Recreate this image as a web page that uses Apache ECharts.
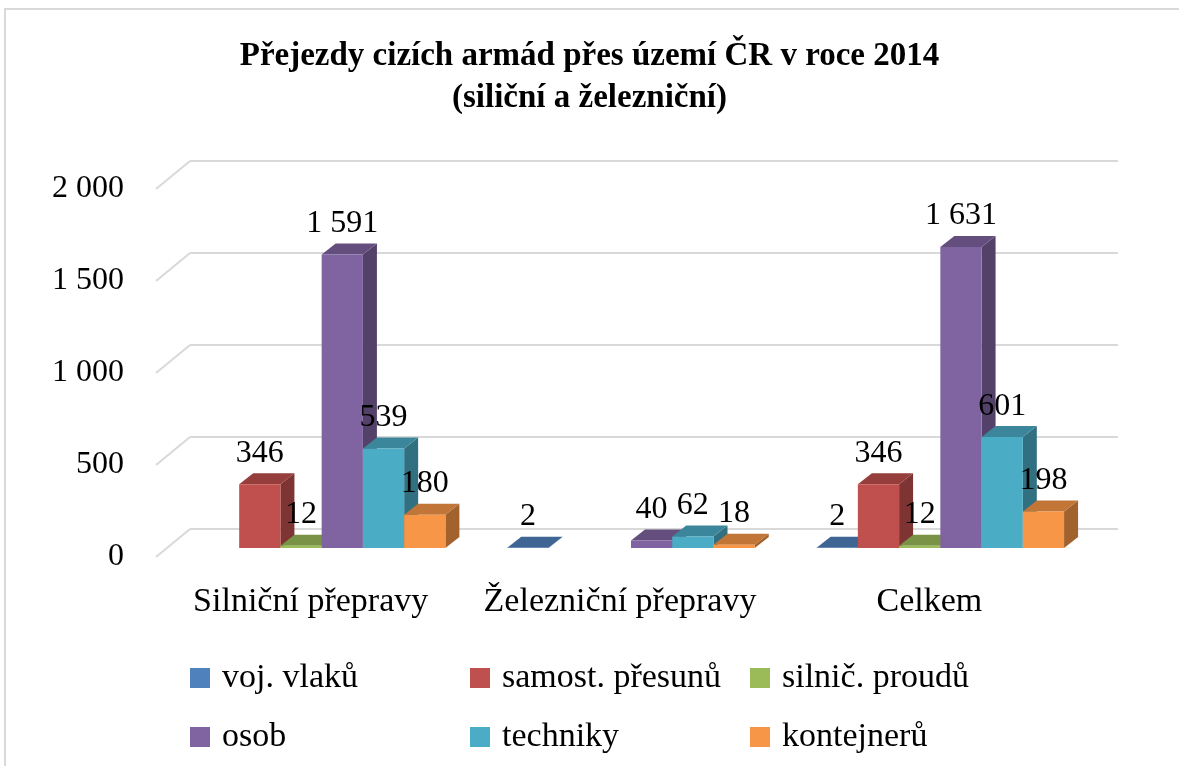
<!DOCTYPE html>
<html>
<head>
<meta charset="utf-8">
<script src="https://cdn.jsdelivr.net/npm/echarts@6/dist/echarts.min.js"></script>
<style>
  html, body { margin: 0; padding: 0; background: #fff; }
  #chart { width: 1179px; height: 766px; }
</style>
</head>
<body>
<div id="chart"></div>
<script>
// kategorie a hodnoty
const categories = ['Silniční přepravy', 'Železniční přepravy', 'Celkem'];
const seriesNames = ['voj. vlaků', 'samost. přesunů', 'silnič. proudů', 'osob', 'techniky', 'kontejnerů'];
const vojVlaku = [null, 2, 2];
const samostPresunu = [346, null, 346];
const silnicProudu = [12, null, 12];
const osob = [1591, 40, 1631];
const techniky = [539, 62, 601];
const kontejneru = [180, 18, 198];
const yTicks = [0, 500, 1000, 1500, 2000];

const seriesValues = [vojVlaku, samostPresunu, silnicProudu, osob, techniky, kontejneru];
const colors = ['#4F81BD', '#C0504D', '#9BBB59', '#8064A2', '#4BACC6', '#F79646'];

const FONT = '"Liberation Serif", "DejaVu Serif", serif';
const DEPTH_X = 14, DEPTH_Y = -11;   // hloubka sloupců
const WALL_X = -34, WALL_Y = 28;     // šikmé čáry podlahy

function shade(hex, f) {
  const n = parseInt(hex.slice(1), 16);
  const r = Math.round(((n >> 16) & 255) * f);
  const g = Math.round(((n >> 8) & 255) * f);
  const b = Math.round((n & 255) * f);
  return 'rgb(' + r + ',' + g + ',' + b + ')';
}

function fmt(v) {
  return String(v).replace(/\B(?=(\d{3})+(?!\d))/g, ' ');
}

const chart = echarts.init(document.getElementById('chart'));

function barRenderer(idx) {
  return function (params, api) {
    const cat = api.value(0);
    const val = api.value(1);
    const base = api.coord([cat, 0]);
    const top = api.coord([cat, val]);
    const band = api.size([1, 0])[0];
    const w = band * 0.8 / 6;
    const x = base[0] + (idx - 3) * w;
    const yt = top[1], yb = base[1];
    const c = colors[idx];
    return {
      type: 'group',
      children: [
        {
          type: 'polygon',
          shape: { points: [[x + w, yt], [x + w + DEPTH_X, yt + DEPTH_Y], [x + w + DEPTH_X, yb + DEPTH_Y], [x + w, yb]] },
          style: { fill: shade(c, 0.65) }
        },
        {
          type: 'polygon',
          shape: { points: [[x, yt], [x + w, yt], [x + w + DEPTH_X, yt + DEPTH_Y], [x + DEPTH_X, yt + DEPTH_Y]] },
          style: { fill: shade(c, 0.78) }
        },
        {
          type: 'rect',
          shape: { x: x, y: yt, width: w, height: Math.max(yb - yt, 0) },
          style: { fill: c }
        },
        {
          type: 'text',
          z2: 100,
          style: {
            text: fmt(val), x: x + w / 2, y: yt - 31,
            align: 'center', verticalAlign: 'middle',
            fontSize: 32, fontFamily: FONT, fill: '#000'
          }
        }
      ]
    };
  };
}

const barSeries = seriesNames.map((name, i) => ({
  name: name,
  type: 'custom',
  xAxisIndex: 0,
  yAxisIndex: 0,
  itemStyle: { color: colors[i] },
  renderItem: barRenderer(i),
  data: seriesValues[i]
    .map((v, k) => (v === null ? null : [k, v]))
    .filter(d => d !== null)
}));

// šikmé čáry mezi přední rovinou a zadní stěnou
const diagSeries = {
  type: 'custom',
  xAxisIndex: 1,
  yAxisIndex: 1,
  silent: true,
  renderItem: function (params, api) {
    const p = api.coord([0, api.value(1)]);
    return {
      type: 'line',
      shape: { x1: p[0], y1: p[1], x2: p[0] + WALL_X, y2: p[1] + WALL_Y },
      style: { stroke: '#d9d9d9', lineWidth: 2 }
    };
  },
  data: yTicks.map(v => [0, v])
};

const legendPos = [
  [185, 0], [465, 0], [745, 0],
  [185, 1], [465, 1], [745, 1]
];

const option = {
  animation: false,
  backgroundColor: '#fff',
  title: {
    text: 'Přejezdy cizích armád přes území ČR v roce 2014\n(siliční a železniční)',
    left: 'center',
    top: 30,
    textStyle: { fontFamily: FONT, fontSize: 33, fontWeight: 'bold', lineHeight: 42, color: '#000' }
  },
  graphic: [{
    type: 'rect',
    shape: { x: 5, y: 9, width: 1300, height: 900 },
    style: { fill: 'none', stroke: '#d9d9d9', lineWidth: 2 },
    silent: true
  }],
  legend: seriesNames.map((name, i) => ({
    data: [name],
    left: legendPos[i][0],
    top: 656 + legendPos[i][1] * 59,
    icon: 'rect',
    itemWidth: 20,
    itemHeight: 20,
    selectedMode: false,
    textStyle: { fontFamily: FONT, fontSize: 34, color: '#000', padding: [0, 0, 0, 7] }
  })),
  grid: [
    { left: 167, width: 928, top: 179, height: 369 },   // sloupce
    { left: 190, width: 928, top: 161, height: 368 },   // zadní stěna
    { left: 156, width: 928, top: 189, height: 368 }    // popisky os
  ],
  xAxis: [
    { gridIndex: 0, type: 'category', data: categories, show: false },
    { gridIndex: 1, type: 'value', min: 0, max: 1, show: false },
    {
      gridIndex: 2, type: 'category', data: categories,
      axisLine: { show: false }, axisTick: { show: false },
      axisLabel: { interval: 0, fontFamily: FONT, fontSize: 34, color: '#000', margin: 28 }
    }
  ],
  yAxis: [
    { gridIndex: 0, type: 'value', min: 0, max: 2000, interval: 500, show: false },
    {
      gridIndex: 1, type: 'value', min: 0, max: 2000, interval: 500,
      axisLabel: { show: false }, axisLine: { show: false }, axisTick: { show: false },
      splitLine: { lineStyle: { color: '#d9d9d9', width: 2 } }
    },
    {
      gridIndex: 2, type: 'value', min: 0, max: 2000, interval: 500,
      axisLine: { show: false }, axisTick: { show: false }, splitLine: { show: false },
      axisLabel: { fontFamily: FONT, fontSize: 32, color: '#000', margin: 32, formatter: fmt }
    }
  ],
  series: [diagSeries].concat(barSeries)
};

chart.setOption(option);
</script>
</body>
</html>
